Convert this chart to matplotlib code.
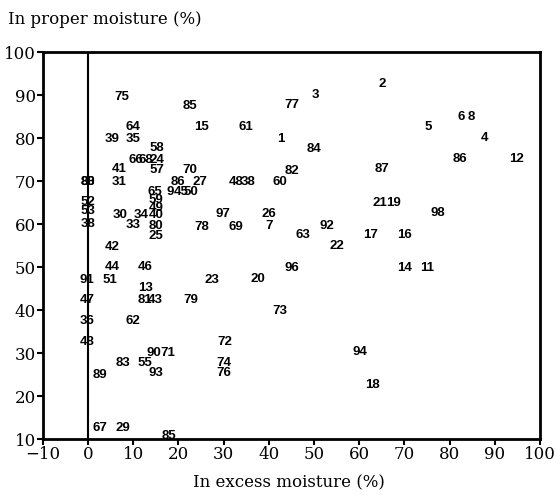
import matplotlib
matplotlib.use("Agg")
import matplotlib.pyplot as plt

# point labels and their positions (excess %, proper %)
labels = ["2", "3", "77", "6", "8", "5", "4", "86", "12", "1",
          "84", "82", "60", "87", "21", "19", "98", "92", "63", "17",
          "16", "22", "96", "20", "14", "11", "73", "94", "18", "48",
          "38", "26", "7", "69", "97", "78", "61", "15", "85", "75",
          "64", "39", "35", "58", "66", "68", "24", "57", "41", "31",
          "88", "80", "70", "86", "27", "65", "9", "45", "50", "59",
          "49", "40", "30", "34", "33", "80", "25", "52", "53", "38",
          "42", "44", "46", "91", "51", "23", "13", "81", "43", "47",
          "79", "36", "62", "48", "72", "90", "71", "83", "55", "74",
          "93", "76", "89", "67", "29", "85"]
excess = [65.0, 50.2, 45.1, 82.5, 84.9, 75.2, 87.8, 82.3, 94.9, 42.7,
          50.0, 45.1, 42.4, 65.0, 64.6, 67.7, 77.4, 52.8, 47.5, 62.6,
          70.1, 55.0, 45.1, 37.6, 70.1, 75.0, 42.4, 60.1, 63.0, 32.7,
          35.4, 40.0, 40.0, 32.7, 29.8, 25.2, 34.9, 25.2, 22.5, 7.5,
          9.9, 5.3, 9.9, 15.2, 10.6, 12.8, 15.2, 15.2, 6.8, 6.8,
          0.0, 0.0, 22.5, 19.9, 24.7, 14.8, 18.1, 20.5, 22.7, 15.0,
          15.0, 15.0, 7.0, 11.7, 9.9, 15.0, 15.0, 0.0, 0.0, 0.0,
          5.3, 5.3, 12.6, -0.3, 4.8, 27.4, 12.6, 12.6, 14.8, -0.3,
          22.7, -0.3, 9.9, -0.3, 30.3, 14.6, 17.7, 7.7, 12.6, 30.0,
          15.0, 30.0, 2.6, 2.6, 7.7, 17.9]
proper = [92.6, 90.0, 87.7, 84.9, 84.9, 82.6, 80.0, 75.1, 75.1, 79.8,
          77.4, 72.3, 69.8, 72.8, 64.9, 64.9, 62.6, 59.5, 57.4, 57.4,
          57.4, 54.9, 49.8, 47.2, 49.8, 49.8, 39.8, 30.2, 22.6, 69.8,
          69.8, 62.3, 59.5, 59.3, 62.3, 59.3, 82.6, 82.6, 87.4, 89.5,
          82.6, 79.8, 79.8, 77.7, 74.9, 74.9, 74.9, 72.6, 72.8, 69.8,
          69.8, 69.8, 72.6, 69.8, 69.8, 67.4, 67.4, 67.4, 67.4, 65.6,
          63.7, 62.1, 62.1, 62.1, 59.8, 59.5, 57.2, 65.1, 63.0, 60.0,
          54.7, 50.0, 50.0, 47.0, 47.0, 47.0, 45.1, 42.3, 42.3, 42.3,
          42.3, 37.4, 37.4, 32.6, 32.6, 30.0, 30.0, 27.7, 27.7, 27.7,
          25.3, 25.3, 24.9, 12.6, 12.6, 10.6]

xticks = [-10, 0, 10, 20, 30, 40, 50, 60, 70, 80, 90, 100]
yticks = [10, 20, 30, 40, 50, 60, 70, 80, 90, 100]

serif = "DejaVu Serif"

fig = plt.figure(figsize=(5.56, 4.95), dpi=100)
ax = fig.add_axes([0.0773, 0.1131, 0.8937, 0.7818])

for lab, x, y in zip(labels, excess, proper):
    ax.text(x, y, lab, ha="center", va="center", fontsize=9.5,
            fontweight="bold", family="Liberation Sans", color="black",
            zorder=1)

ax.axvline(0, color="black", lw=1.5, zorder=2)

ax.set_xlim(-10, 100)
ax.set_ylim(10, 100)
ax.set_xticks(xticks)
ax.set_yticks(yticks)
ax.set_xticklabels([str(t).replace("-", "\u2212") for t in xticks],
                   family=serif, fontsize=12)
ax.set_yticklabels([str(t) for t in yticks], family=serif, fontsize=12)
ax.tick_params(direction="out", length=4, width=1.5, pad=1)

for s in ax.spines.values():
    s.set_linewidth(2)
    s.set_zorder(3)

fig.text(0.015, 0.96, "In proper moisture (%)", family=serif, fontsize=12,
         ha="left", va="center")
fig.text(0.52, 0.025, "In excess moisture (%)", family=serif, fontsize=12,
         ha="center", va="center")

fig.savefig("out.png", dpi=100)
